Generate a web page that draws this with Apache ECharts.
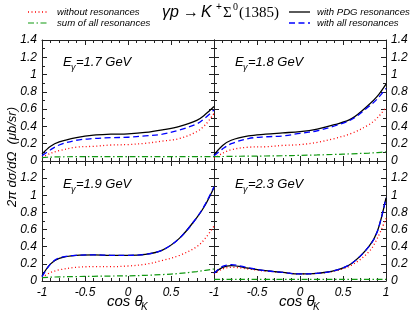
<!DOCTYPE html>
<html><head><meta charset="utf-8">
<script src="https://cdn.jsdelivr.net/npm/echarts@6/dist/echarts.min.js"></script>
<style>html,body{margin:0;padding:0;background:#fff}#c{width:415px;height:314px}</style>
</head><body><div id="c"></div>
<script>
// cos(theta_K) sample points
var cosK = [-1, -0.9, -0.8, -0.6, -0.4, -0.2, 0, 0.2, 0.4, 0.6, 0.8, 0.9, 1];
var yTicks = [0, 0.2, 0.4, 0.6, 0.8, 1, 1.2, 1.4];
var xTicks = [-1, -0.5, 0, 0.5, 1];
var panelLabels = ['1.7', '1.8', '1.9', '2.3'];
// E = 1.7 GeV
var without17 = [0.04, 0.09, 0.12, 0.16, 0.17, 0.185, 0.19, 0.205, 0.23, 0.26, 0.34, 0.42, 0.55];
var sum17     = [0.04, 0.045, 0.048, 0.05, 0.05, 0.05, 0.05, 0.05, 0.05, 0.05, 0.05, 0.05, 0.05];
var pdg17     = [0.08, 0.17, 0.22, 0.27, 0.30, 0.31, 0.315, 0.33, 0.36, 0.40, 0.47, 0.54, 0.63];
var all17     = [0.06, 0.13, 0.185, 0.24, 0.26, 0.27, 0.275, 0.29, 0.31, 0.36, 0.43, 0.50, 0.59];
// E = 1.8 GeV
var without18 = [0.03, 0.09, 0.13, 0.16, 0.165, 0.18, 0.19, 0.215, 0.26, 0.32, 0.42, 0.50, 0.62];
var sum18     = [0.05, 0.052, 0.054, 0.056, 0.058, 0.061, 0.065, 0.07, 0.076, 0.083, 0.092, 0.098, 0.105];
var pdg18     = [0.07, 0.18, 0.24, 0.29, 0.31, 0.325, 0.34, 0.37, 0.42, 0.49, 0.65, 0.75, 0.89];
var all18     = [0.06, 0.14, 0.20, 0.26, 0.28, 0.29, 0.32, 0.35, 0.405, 0.48, 0.63, 0.72, 0.84];
// E = 1.9 GeV
var without19 = [0.04, 0.10, 0.13, 0.16, 0.167, 0.167, 0.175, 0.195, 0.24, 0.30, 0.40, 0.50, 0.64];
var sum19     = [0.04, 0.045, 0.048, 0.052, 0.055, 0.058, 0.06, 0.066, 0.075, 0.088, 0.11, 0.125, 0.14];
var pdg19     = [0.06, 0.20, 0.265, 0.30, 0.305, 0.30, 0.30, 0.31, 0.36, 0.50, 0.74, 0.89, 1.09];
var all19     = [0.05, 0.20, 0.27, 0.30, 0.305, 0.30, 0.30, 0.31, 0.36, 0.50, 0.74, 0.90, 1.10];
// E = 2.3 GeV
var without23 = [0.08, 0.14, 0.16, 0.14, 0.115, 0.10, 0.082, 0.09, 0.115, 0.185, 0.34, 0.50, 0.73];
var sum23     = [0.02, 0.02, 0.02, 0.02, 0.02, 0.02, 0.02, 0.02, 0.02, 0.02, 0.02, 0.02, 0.02];
var pdg23     = [0.09, 0.16, 0.18, 0.15, 0.12, 0.10, 0.082, 0.09, 0.12, 0.205, 0.40, 0.58, 0.97];
var all23     = [0.09, 0.17, 0.19, 0.155, 0.12, 0.10, 0.082, 0.09, 0.12, 0.205, 0.40, 0.58, 0.97];

var panels = [
  [without17, sum17, pdg17, all17],
  [without18, sum18, pdg18, all18],
  [without19, sum19, pdg19, all19],
  [without23, sum23, pdg23, all23]
];

var FONT = '"Liberation Sans", Arial, sans-serif';
var SERIF = '"Liberation Serif", "Times New Roman", serif';
var AX = '#222';
var styles = [
  {color: '#ff0000', type: [1, 2.5], width: 1.3},
  {color: '#119911', type: [6, 2.5, 1.5, 2.5], width: 1.2},
  {color: '#000000', type: 'solid', width: 1.3},
  {color: '#0000ff', type: [6, 3.5], width: 1.3}
];

var grids = [
  {left: 42, top: 40, width: 172, height: 121},
  {left: 214, top: 40, width: 172, height: 121},
  {left: 42, top: 161, width: 172, height: 120},
  {left: 214, top: 161, width: 172, height: 120}
];

var xAxes = [], yAxes = [], series = [];
function axisCommon() {
  return {
    axisLine: {show: true, onZero: false, lineStyle: {color: AX, width: 1}},
    axisTick: {show: true, inside: true, length: 5, lineStyle: {color: AX}},
    minorTick: {show: true, length: 3, lineStyle: {color: AX}},
    splitLine: {show: false},
    minorSplitLine: {show: false}
  };
}
for (var i = 0; i < 4; i++) {
  var bottomRow = i >= 2, rightCol = (i % 2 === 1);
  ['bottom', 'top'].forEach(function (pos) {
    var a = axisCommon();
    a.type = 'value'; a.gridIndex = i; a.position = pos;
    a.min = xTicks[0]; a.max = xTicks[xTicks.length - 1]; a.interval = 0.5;
    a.minorTick.splitNumber = 5;
    var show = (pos === 'bottom' && bottomRow);
    a.axisLabel = {show: show, margin: 6, color: '#000', fontSize: 12, fontStyle: 'italic', fontFamily: FONT,
      formatter: (function (rc) { return function (v) { if (!rc && v === 1) return ''; return String(v); }; })(rightCol)};
    xAxes.push(a);
  });
  ['left', 'right'].forEach(function (pos) {
    var a = axisCommon();
    a.type = 'value'; a.gridIndex = i; a.position = pos;
    a.min = yTicks[0]; a.max = yTicks[yTicks.length - 1]; a.interval = 0.2;
    a.minorTick.splitNumber = 2;
    var show = (pos === 'left' && !rightCol) || (pos === 'right' && rightCol);
    a.axisLabel = {show: show, margin: 5, color: '#000', fontSize: 12, fontStyle: 'italic', fontFamily: FONT,
      formatter: (function (br) { return function (v) { if (br && Math.abs(v - 1.4) < 1e-6) return ''; return String(Math.round(v * 10) / 10); }; })(bottomRow)};
    yAxes.push(a);
  });
  panels[i].forEach(function (vals, k) {
    series.push({
      type: 'line', xAxisIndex: 2 * i, yAxisIndex: 2 * i, smooth: 0.35, showSymbol: false, symbol: 'none',
      clip: true, silent: true, animation: false,
      lineStyle: styles[k],
      data: cosK.map(function (c, j) { return [c, vals[j]]; })
    });
  });
}

var graphics = [];
function txt(x, y, s, size, fam, italic, extra) {
  var o = {type: 'text', x: x, y: y, silent: true,
    style: {text: s, fill: '#000', font: (italic ? 'italic ' : '') + size + 'px ' + fam,
      textAlign: 'left', textVerticalAlign: 'middle', align: 'left', verticalAlign: 'middle'}};
  if (extra) for (var k in extra) o[k] = extra[k];
  return o;
}
function legLine(x1, x2, y, st) {
  var dash = Array.isArray(st.type) ? st.type : null;
  return {type: 'line', silent: true, shape: {x1: x1, y1: y, x2: x2, y2: y},
    style: {stroke: st.color, lineWidth: st.width, lineDash: dash}};
}
var legendNames = ['without resonances', 'sum of all resonances', 'with PDG resonances', 'with all resonances'];
var LF = 9.6;
graphics.push(legLine(28, 49, 12, styles[0]));
graphics.push(txt(57, 12, legendNames[0], LF, FONT, true));
graphics.push(legLine(28, 49, 23, styles[1]));
graphics.push(txt(57, 23, legendNames[1], LF, FONT, true));
graphics.push(legLine(289, 310, 12, styles[2]));
graphics.push(txt(317, 12, legendNames[2], LF, FONT, true));
graphics.push(legLine(289, 310, 23, styles[3]));
graphics.push(txt(317, 23, legendNames[3], LF, FONT, true));
// title
graphics.push(txt(162, 13, 'γp', 16, FONT, true));
graphics.push(txt(183, 13, '→', 16, FONT, false));
graphics.push(txt(201, 13, 'K', 16, FONT, true));
graphics.push(txt(216, 7, '+', 10, FONT, false));
graphics.push(txt(223, 13, 'Σ', 15, SERIF, false));
graphics.push(txt(233, 7, '0', 10, SERIF, false));
graphics.push(txt(239, 13, '(1385)', 15, SERIF, false));
// panel labels
var labPos = [[63, 62], [235, 62], [63, 184], [235, 184]];
for (var p = 0; p < 4; p++) {
  graphics.push(txt(labPos[p][0], labPos[p][1], 'E', 13, FONT, true));
  graphics.push(txt(labPos[p][0] + 8, labPos[p][1] + 5, 'γ', 9, FONT, true));
  graphics.push(txt(labPos[p][0] + 13, labPos[p][1], '=' + panelLabels[p] + ' GeV', 13, FONT, true));
}
// x titles
[107, 279].forEach(function (x) {
  graphics.push(txt(x, 302, 'cos θ', 15, FONT, true));
  graphics.push(txt(x + 34, 307, 'K', 10, FONT, true));
});
// y title
graphics.push({type: 'text', x: 12, y: 157, rotation: Math.PI / 2, silent: true,
  style: {text: '2π dσ/dΩ  (μb/sr)', fill: '#000', font: 'italic 13px ' + FONT,
    textAlign: 'center', textVerticalAlign: 'middle', align: 'center', verticalAlign: 'middle'}});

var chart = echarts.init(document.getElementById('c'), null, {renderer: 'canvas'});
chart.setOption({
  animation: false,
  backgroundColor: '#fff',
  grid: grids,
  xAxis: xAxes,
  yAxis: yAxes,
  series: series,
  graphic: graphics
});
</script></body></html>
